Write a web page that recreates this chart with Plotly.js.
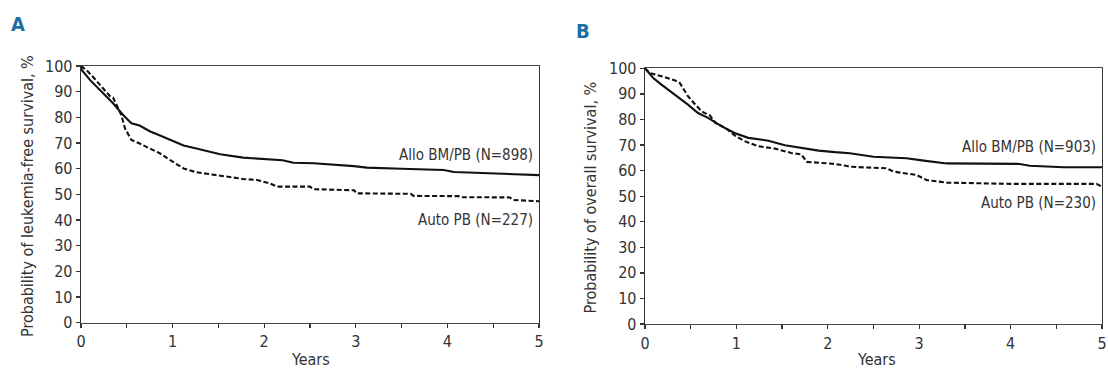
<!DOCTYPE html>
<html>
<head>
<meta charset="utf-8">
<script src="https://cdn.plot.ly/plotly-3.0.1.min.js"></script>
<style>
html,body{margin:0;padding:0;background:#fff;}
#chart{width:1108px;height:370px;}
</style>
</head>
<body>
<div id="chart"></div>
<script>
// Panel A: leukemia-free survival
const lfsAlloYears = [0, 0.01, 0.1, 0.24, 0.35, 0.46, 0.55, 0.64, 0.75, 0.83, 0.97, 1.05, 1.12, 1.26, 1.52, 1.77, 2.06, 2.2, 2.32, 2.54, 2.98, 3.12, 3.5, 3.96, 4.07, 4.43, 5];
const lfsAlloPct   = [100, 98.4, 94.5, 89.4, 85.5, 80.9, 77.7, 76.8, 74.6, 73.4, 71.2, 70.0, 69.0, 67.9, 65.6, 64.3, 63.6, 63.3, 62.3, 62.1, 61.0, 60.4, 60.0, 59.5, 58.7, 58.2, 57.5];
const lfsAutoYears = [0, 0.06, 0.13, 0.24, 0.32, 0.35, 0.41, 0.44, 0.48, 0.55, 0.61, 0.75, 0.86, 0.97, 1.05, 1.12, 1.26, 1.52, 1.77, 1.92, 2.06, 2.14, 2.25, 2.5, 2.54, 2.98, 3.01, 3.6, 3.63, 4.12, 4.14, 4.68, 4.72, 4.95, 5];
const lfsAutoPct   = [100, 98.4, 95.8, 91.3, 88.1, 87.7, 83.5, 80.9, 75.7, 71.2, 70.3, 67.9, 66.0, 63.4, 61.5, 60.1, 58.6, 57.3, 56.0, 55.6, 54.3, 53.0, 53.0, 53.0, 52.0, 51.6, 50.4, 50.2, 49.4, 49.3, 48.9, 48.8, 47.8, 47.6, 47.3];

// Panel B: overall survival
const osAlloYears = [0, 0.09, 0.18, 0.33, 0.47, 0.58, 0.69, 0.84, 0.98, 1.13, 1.35, 1.53, 1.71, 1.90, 2.08, 2.24, 2.50, 2.86, 3.05, 3.30, 4.10, 4.21, 4.58, 5];
const osAlloPct   = [100, 96.2, 93.6, 89.7, 85.8, 82.5, 80.6, 77.3, 74.7, 72.8, 71.7, 69.9, 68.9, 67.8, 67.2, 66.8, 65.4, 64.8, 63.9, 62.8, 62.6, 61.9, 61.3, 61.3];
const osAutoYears = [0, 0.05, 0.18, 0.33, 0.38, 0.47, 0.55, 0.62, 0.67, 0.71, 0.77, 0.88, 0.98, 1.09, 1.24, 1.42, 1.60, 1.71, 1.77, 1.90, 2.08, 2.21, 2.24, 2.64, 2.72, 2.97, 3.08, 3.30, 4.0, 4.94, 5];
const osAutoPct   = [100, 98.2, 96.9, 95.2, 94.3, 89.1, 85.8, 83.2, 82.2, 81.6, 78.6, 76.7, 73.8, 71.5, 69.5, 68.6, 66.9, 66.3, 63.4, 63.0, 62.6, 61.8, 61.5, 60.9, 59.6, 58.3, 56.3, 55.3, 54.8, 54.8, 53.7];

const tickVals = [0, 10, 20, 30, 40, 50, 60, 70, 80, 90, 100];
const xTickVals = [0, 1, 2, 3, 4, 5];
const xMinorVals = [0.5, 1.5, 2.5, 3.5, 4.5];

const panelLabels = ['A', 'B'];
const yTitles = ['Probability of leukemia-free survival, %', 'Probability of overall survival, %'];
const seriesLabelsA = ['Allo BM/PB (N=898)', 'Auto PB (N=227)'];
const seriesLabelsB = ['Allo BM/PB (N=903)', 'Auto PB (N=230)'];

const FONT = '"Liberation Sans Narrow", "DejaVu Sans Condensed", "Arial Narrow", sans-serif';
const TXT = '#333333';

function line(x, y, xa, ya, dashed) {
  return {x: x, y: y, xaxis: xa, yaxis: ya, type: 'scatter', mode: 'lines',
    line: {color: '#111111', width: 2.1, dash: dashed ? '5px,2.5px' : 'solid'},
    hoverinfo: 'skip', showlegend: false};
}

const traces = [
  line(lfsAlloYears, lfsAlloPct, 'x', 'y', false),
  line(lfsAutoYears, lfsAutoPct, 'x', 'y', true),
  line(osAlloYears, osAlloPct, 'x2', 'y2', false),
  line(osAutoYears, osAutoPct, 'x2', 'y2', true)
];

function xaxis(domain, anchor) {
  return {domain: domain, anchor: anchor, range: [0, 5], tickvals: xTickVals,
    ticktext: xTickVals.map(String), ticks: 'outside', ticklen: 4, tickwidth: 1.3,
    tickcolor: '#333', showline: true, linecolor: '#444', linewidth: 1.3, mirror: true,
    showgrid: false, zeroline: false, fixedrange: true,
    tickfont: {family: FONT, size: 16, color: TXT},
    minor: {tickvals: xMinorVals, ticks: 'outside', ticklen: 4, tickwidth: 1.3, tickcolor: '#333', showgrid: false}};
}
function yaxis(domain, anchor) {
  return {domain: domain, anchor: anchor, range: [0, 100], tickvals: tickVals,
    ticktext: tickVals.map(String), ticks: 'outside', ticklen: 4, tickwidth: 1.3,
    tickcolor: '#333', showline: true, linecolor: '#333', linewidth: 1.3, mirror: true,
    showgrid: false, zeroline: false, fixedrange: true,
    tickfont: {family: FONT, size: 16, color: TXT}};
}

function ann(text, x, y, xref, yref, opts) {
  return Object.assign({text: text, x: x, y: y, xref: xref, yref: yref, showarrow: false,
    font: {family: FONT, size: 15, color: TXT}}, opts || {});
}

const W = 1108, H = 370;
const annotations = [
  ann(panelLabels[0], 18 / W, 1 - 24 / H, 'paper', 'paper', {font: {family: FONT, size: 20, color: '#1a70a6', weight: 'bold'}, xanchor: 'center', yanchor: 'middle'}),
  ann(panelLabels[1], 583 / W, 1 - 31 / H, 'paper', 'paper', {font: {family: FONT, size: 20, color: '#1a70a6', weight: 'bold'}, xanchor: 'center', yanchor: 'middle'}),
  ann(yTitles[0], 27.5 / W, 1 - 196.5 / H, 'paper', 'paper', {textangle: -90, xanchor: 'center', yanchor: 'middle', font: {family: FONT, size: 16, color: TXT}}),
  ann(yTitles[1], 590 / W, 1 - 197.5 / H, 'paper', 'paper', {textangle: -90, xanchor: 'center', yanchor: 'middle', font: {family: FONT, size: 16, color: TXT}}),
  ann('Years', 310 / W, 1 - 359 / H, 'paper', 'paper', {xanchor: 'center', yanchor: 'middle', font: {family: FONT, size: 16, color: TXT}}),
  ann('Years', 876 / W, 1 - 359.5 / H, 'paper', 'paper', {xanchor: 'center', yanchor: 'middle', font: {family: FONT, size: 16, color: TXT}}),
  ann(seriesLabelsA[0], 4.96, 65.3, 'x', 'y', {xanchor: 'right', yanchor: 'middle'}),
  ann(seriesLabelsA[1], 4.96, 40.0, 'x', 'y', {xanchor: 'right', yanchor: 'middle'}),
  ann(seriesLabelsB[0], 4.96, 69.2, 'x2', 'y2', {xanchor: 'right', yanchor: 'middle'}),
  ann(seriesLabelsB[1], 4.96, 47.3, 'x2', 'y2', {xanchor: 'right', yanchor: 'middle'})
];

const layout = {
  width: W, height: H,
  margin: {l: 0, r: 0, t: 0, b: 0},
  paper_bgcolor: '#ffffff', plot_bgcolor: '#ffffff',
  showlegend: false,
  xaxis: xaxis([81 / W, 539 / W], 'y'),
  yaxis: yaxis([1 - 322.7 / H, 1 - 66 / H], 'x'),
  xaxis2: xaxis([645 / W, 1102 / W], 'y2'),
  yaxis2: yaxis([1 - 324 / H, 1 - 68.3 / H], 'x2'),
  annotations: annotations
};

Plotly.newPlot('chart', traces, layout, {staticPlot: true, displayModeBar: false});
</script>
</body>
</html>
